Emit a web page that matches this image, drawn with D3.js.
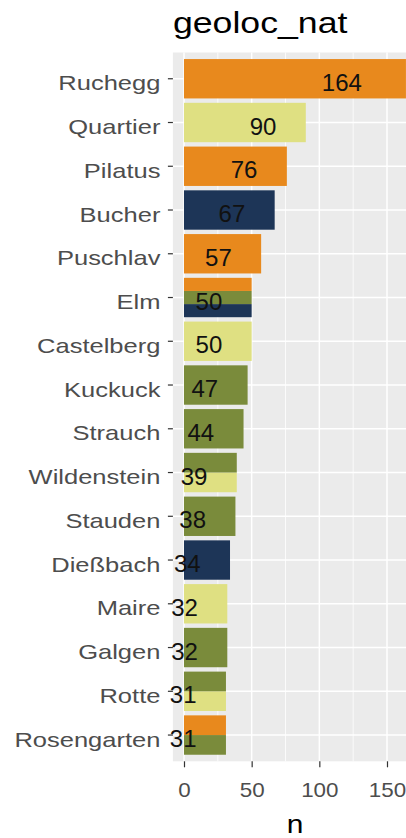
<!DOCTYPE html>
<html>
<head>
<meta charset="utf-8">
<script src="https://cdn.jsdelivr.net/npm/d3@7"></script>
<style>
  html, body { margin: 0; padding: 0; background: #ffffff; }
  svg { display: block; }
</style>
</head>
<body>
<svg id="chart" width="406" height="838"></svg>
<script>
// ---- data ----
const names = ["Ruchegg","Quartier","Pilatus","Bucher","Puschlav","Elm","Castelberg","Kuckuck",
               "Strauch","Wildenstein","Stauden","Dießbach","Maire","Galgen","Rotte","Rosengarten"];
const counts = [164, 90, 76, 67, 57, 50, 50, 47, 44, 39, 38, 34, 32, 32, 31, 31];
// geoloc_nat levels present for each name (level order: A, B, C, D)
const natLevels = ["A", "B", "C", "D"];
const natColors = ["#1D3557", "#DFE082", "#7A8B3B", "#E8891D"];
const natByName = [["D"],["B"],["D"],["A"],["D"],["A","C","D"],["B"],["C"],
                   ["C"],["B","C"],["C"],["A"],["B"],["C"],["B","C"],["C","D"]];
const xTicks = [0, 50, 100, 150];
const xMinorTicks = [25, 75, 125];
const titleText = "geoloc_nat";
const xTitle = "n";

// ---- layout ----
const svg = d3.select("#chart");
const panel = { left: 172.9, top: 52.5, bottom: 761.3 };
const xMax = d3.max(counts);
const pad = xMax * 0.05;
const x = d3.scaleLinear().domain([-pad, xMax + pad]).range([panel.left, panel.left + (xMax + 2 * pad) * (203 / 150)]);
const y = d3.scaleBand().domain(names).range([panel.top, panel.bottom]).paddingInner(0.1).paddingOuter(0.15);
const color = d3.scaleOrdinal().domain(natLevels).range(natColors);
const panelRight = x.range()[1];

const SX = 1.245; // horizontal text stretch for category labels

// panel background
svg.append("rect").attr("x", panel.left).attr("y", panel.top)
  .attr("width", panelRight - panel.left).attr("height", panel.bottom - panel.top)
  .attr("fill", "#EBEBEB");

// grid
const grid = svg.append("g");
grid.selectAll("line.minor").data(xMinorTicks).join("line")
  .attr("x1", d => x(d)).attr("x2", d => x(d))
  .attr("y1", panel.top).attr("y2", panel.bottom)
  .attr("stroke", "#ffffff").attr("stroke-width", 0.8);
grid.selectAll("line.majorx").data(xTicks).join("line")
  .attr("x1", d => x(d)).attr("x2", d => x(d))
  .attr("y1", panel.top).attr("y2", panel.bottom)
  .attr("stroke", "#ffffff").attr("stroke-width", 1.5);
grid.selectAll("line.majory").data(names).join("line")
  .attr("x1", panel.left).attr("x2", panelRight)
  .attr("y1", d => y(d) + y.bandwidth() / 2).attr("y2", d => y(d) + y.bandwidth() / 2)
  .attr("stroke", "#ffffff").attr("stroke-width", 1.5);

// bars (dodged by geoloc_nat)
const rows = [];
names.forEach((nm, i) => {
  const levs = natByName[i];
  levs.forEach((lv, j) => rows.push({ name: nm, n: counts[i], nat: lv, j: j, k: levs.length }));
});
svg.append("g").selectAll("rect").data(rows).join("rect")
  .attr("x", d => x(0))
  .attr("width", d => x(d.n) - x(0))
  .attr("y", d => {
    const h = y.bandwidth() / d.k;
    return y(d.name) + y.bandwidth() - (d.j + 1) * h;
  })
  .attr("height", d => y.bandwidth() / d.k)
  .attr("fill", d => color(d.nat));

// value labels (hjust ~ 2.1)
const labelG = svg.append("g");
names.forEach((nm, i) => {
  const t = labelG.append("text")
    .attr("font-family", "Liberation Sans, Arial, sans-serif")
    .attr("font-size", 24)
    .attr("fill", "#111111")
    .text(counts[i]);
  const w = t.node().getComputedTextLength();
  t.attr("x", x(counts[i]) - 2.1 * w)
   .attr("y", y(nm) + y.bandwidth() / 2 + 12);
});

// y axis
const yAxis = svg.append("g").attr("transform", `translate(${panel.left},0)`)
  .call(d3.axisLeft(y).tickSize(5).tickPadding(7));
yAxis.select(".domain").remove();
yAxis.selectAll(".tick line").attr("stroke", "#333333").attr("stroke-width", 1.2);
yAxis.selectAll(".tick text")
  .attr("font-family", "Liberation Sans, Arial, sans-serif")
  .attr("font-size", 20.5)
  .attr("fill", "#4D4D4D")
  .attr("dy", null)
  .attr("y", 11.5)
  .attr("x", -12.5 / SX)
  .attr("transform", `scale(${SX},1)`);

// x axis
const xAxis = svg.append("g").attr("transform", `translate(0,${panel.bottom})`)
  .call(d3.axisBottom(x).tickValues(xTicks).tickSize(6).tickPadding(4));
xAxis.select(".domain").remove();
xAxis.selectAll(".tick line").attr("stroke", "#333333").attr("stroke-width", 1.2);
xAxis.selectAll(".tick text")
  .attr("font-family", "Liberation Sans, Arial, sans-serif")
  .attr("font-size", 20)
  .attr("fill", "#4D4D4D")
  .attr("dy", null)
  .attr("y", 36)
  .attr("transform", "scale(1.12,1)")
  .attr("x", 0);

// axis title
svg.append("text")
  .attr("transform", `translate(${(panel.left + panelRight) / 2},833) scale(1.15,1)`)
  .attr("text-anchor", "middle")
  .attr("font-family", "Liberation Sans, Arial, sans-serif")
  .attr("font-size", 26)
  .attr("fill", "#000000")
  .text(xTitle);

// title
svg.append("text")
  .attr("transform", `translate(${panel.left},33) scale(1.23,1)`)
  .attr("font-family", "Liberation Sans, Arial, sans-serif")
  .attr("font-size", 29)
  .attr("fill", "#000000")
  .text(titleText);
</script>
</body>
</html>
